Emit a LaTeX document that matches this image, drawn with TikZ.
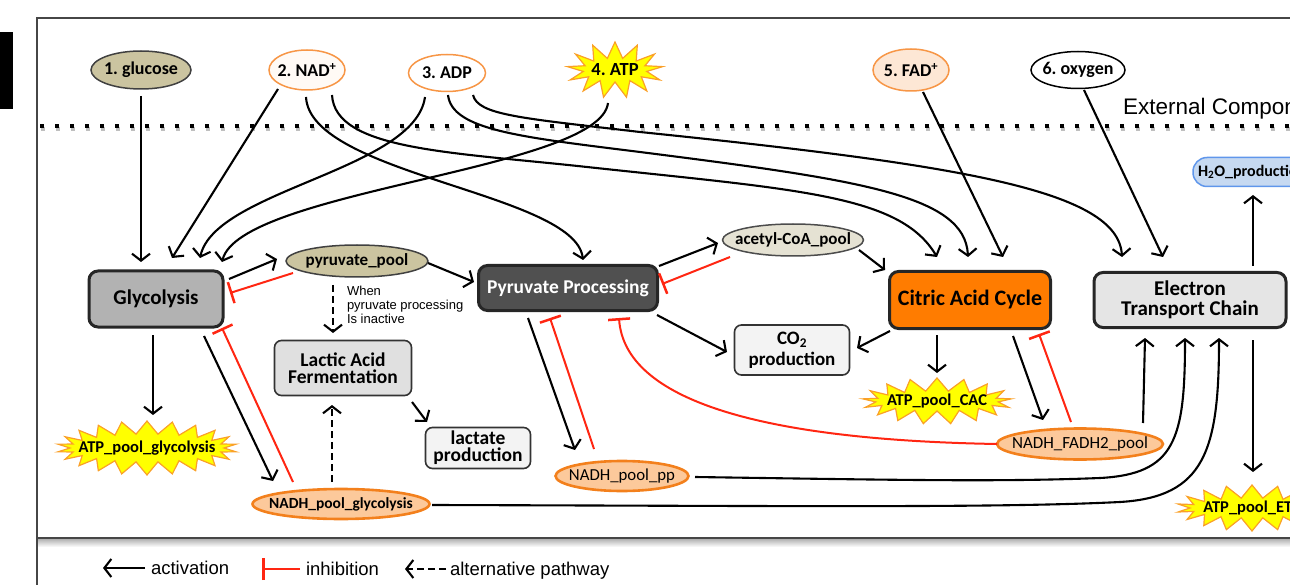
\documentclass[tikz,border=0pt]{standalone}
\usepackage{fontspec}
\setmainfont{Carlito}
\newfontfamily\arialfont{Liberation Sans}
\usetikzlibrary{arrows.meta,shapes.geometric,shapes.symbols,calc}

\definecolor{khaki}{RGB}{203,196,160}
\definecolor{khakilight}{RGB}{229,226,211}
\definecolor{orangeline}{RGB}{247,150,70}
\definecolor{peach}{RGB}{252,201,155}
\definecolor{peachlight}{RGB}{253,231,213}
\definecolor{poolline}{RGB}{243,128,28}
\definecolor{burstyellow}{RGB}{255,255,0}
\definecolor{burstline}{RGB}{250,160,40}
\definecolor{glygray}{RGB}{178,178,178}
\definecolor{ppgray}{RGB}{80,80,80}
\definecolor{cacorange}{RGB}{255,124,0}
\definecolor{etcgray}{RGB}{229,229,229}
\definecolor{lacgray}{RGB}{224,224,224}
\definecolor{prodgray}{RGB}{243,243,243}
\definecolor{waterblue}{RGB}{198,217,241}
\definecolor{waterline}{RGB}{95,150,235}
\definecolor{inhred}{RGB}{255,38,18}
\definecolor{framegray}{RGB}{70,70,70}

\newcommand\setfs[2]{\fontsize{#1}{#2}\selectfont}
% label of zero width, so that an ellipse or burst takes its size from its minimum width and height only
\newcommand\zw[1]{\makebox[0pt][c]{#1}}

\begin{document}
\begin{tikzpicture}[x=1pt, y=-1pt,
  every node/.style={inner sep=0pt, outer sep=0pt},
  pool/.style={ellipse, line width=1.5pt},
  input/.style={pool, font=\bfseries\setfs{18}{20}},
  nadhpool/.style={pool, fill=peach, draw=poolline, line width=2.6pt},
  procbig/.style={rectangle, rounded corners=9pt, line width=3pt, draw=black!85},
  procsmall/.style={rectangle, rounded corners=7pt, line width=1.6pt, draw=black!80, align=center},
  burst/.style={starburst, starburst point height=13pt, random starburst=0,
    fill=burstyellow, draw=burstline, line width=1.2pt, font=\bfseries\setfs{16.5}{18}},
  act/.style={draw=black, line width=2.1pt, -{Straight Barb[length=7pt,width=18pt]}},
  inh/.style={draw=inhred, line width=2pt, -{Bar[width=22pt,line width=2.5pt]}},
  alt/.style={act, dash pattern=on 7pt off 4pt},
  legendtext/.style={font=\arialfont\setfs{18.5}{20}, anchor=base west}]

\useasboundingbox (0,0) rectangle (1290,585);
\clip (0,0) rectangle (1290,585);

% frame, legend strip and side mark
\fill[black] (0,32) rectangle (13,109);
\shade[top color=black!30, bottom color=white] (38,539) rectangle (1320,547);
\draw[framegray, line width=1.8pt] (1320,18) -- (37,18) -- (37,600);
\draw[framegray, line width=2pt] (37,538) -- (1320,538);

% separator between external components and the cell
\draw[black!25, line width=4pt, dash pattern=on 4pt off 11pt] (41,129) -- (1300,129);
\draw[black, line width=4pt, dash pattern=on 4pt off 11pt] (40,126) -- (1300,126);
\node[font=\arialfont\setfs{22.5}{24}, anchor=base west] (extlabel) at (1123,115) {External Components};

% external inputs
\node[input, fill=khaki, draw=black!75, minimum width=100pt, minimum height=38pt] (glucose) at (141,70) {\zw{1.~glucose}};
\node[input, fill=orange!4, draw=orangeline, minimum width=76pt, minimum height=40pt] (nad) at (307,70) {\zw{2.~NAD\textsuperscript{+}}};
\node[input, fill=white, draw=orangeline, minimum width=77pt, minimum height=37pt] (adp) at (447,73) {\zw{3.~ADP}};
\node[burst, starburst points=13, starburst point height=16pt, minimum width=96pt, minimum height=56pt, font=\bfseries\setfs{18.5}{20}] (atp) at (615,70) {\zw{4.~ATP}};
\node[input, fill=peachlight, draw=orangeline, minimum width=76pt, minimum height=42pt] (fad) at (911,70) {\zw{5.~FAD\textsuperscript{+}}};
\node[input, fill=white, draw=black, minimum width=94pt, minimum height=37pt] (oxy) at (1078,70) {\zw{6.~oxygen}};

% processes
\node[procbig, fill=glygray, minimum width=134pt, minimum height=56pt, font=\bfseries\setfs{21}{22}] (gly) at (156,299) {Glycolysis};
\node[procbig, fill=ppgray, text=white, minimum width=179pt, minimum height=45pt, font=\bfseries\setfs{19.5}{22}] (pp) at (568,288) {Pyruvate Processing};
\node[procbig, fill=cacorange, minimum width=161pt, minimum height=57pt, font=\bfseries\setfs{22}{24}] (cac) at (970,300) {Citric Acid Cycle};
\node[procbig, fill=etcgray, align=center, minimum width=192pt, minimum height=55pt, font=\bfseries\setfs{21}{20}] (etc) at (1190,300) {Electron\\Transport Chain};
\node[procsmall, fill=lacgray, minimum width=137pt, minimum height=55pt, font=\bfseries\setfs{19.5}{17}] (lac) at (343,368) {Lactic Acid\\Fermentation};
\node[procsmall, fill=prodgray, minimum width=115pt, minimum height=50pt, font=\bfseries\setfs{19}{21}] (co2) at (792,350) {CO\textsubscript{2}\\production};
\node[procsmall, fill=prodgray, minimum width=105pt, minimum height=41pt, font=\bfseries\setfs{19.5}{17}] (lactate) at (478,448) {lactate\\production};

% pools
\node[pool, fill=khaki, draw=black!75, minimum width=142pt, minimum height=32pt, font=\bfseries\setfs{17}{20}] (pyr) at (357,261) {\zw{pyruvate\_pool}};
\node[pool, fill=khakilight, draw=black!70, minimum width=141pt, minimum height=32pt, font=\bfseries\setfs{17}{20}] (acetyl) at (793,240) {\zw{acetyl-CoA\_pool}};
\node[nadhpool, minimum width=133pt, minimum height=30pt, font=\setfs{16.8}{20}] (nadhpp) at (622,476) {\zw{NADH\_pool\_pp}};
\node[nadhpool, minimum width=177pt, minimum height=30pt, font=\bfseries\setfs{15.5}{20}] (nadhgly) at (341,504) {\zw{NADH\_pool\_glycolysis}};
\node[nadhpool, minimum width=166pt, minimum height=31pt, font=\setfs{17}{20}] (nadhfadh) at (1080,444) {\zw{NADH\_FADH2\_pool}};
\node[burst, starburst points=22, minimum width=180pt, minimum height=54pt] (atpgly) at (147,448) {\zw{ATP\_pool\_glycolysis}};
\node[burst, starburst points=17, minimum width=149pt, minimum height=45pt] (atpcac) at (937,401) {\zw{ATP\_pool\_CAC}};
\node[burst, starburst points=18, minimum width=150pt, minimum height=45pt] (atpetc) at (1252,508) {\zw{ATP\_pool\_ETC}};
\node[rectangle, rounded corners=14pt, fill=waterblue, draw=waterline, line width=1.5pt, minimum height=29pt, inner xsep=5pt, anchor=west, font=\bfseries\setfs{16}{18}] (h2o) at (1193,172) {H\textsubscript{2}O\_production};

\node[font=\arialfont\setfs{13}{14}, align=left, anchor=north west] (cond) at (347,286.5) {When\\pyruvate processing\\Is inactive};

% inputs into glycolysis
\draw[act] ($(glucose)+(0,26)$) -- ($(gly)+(-15,-37)$);
\draw[act] ($(nad)+(-29,19)$) -- ($(gly)+(16,-41)$);
\draw[act] ($(adp)+(-22,24)$) .. controls +(-10,73) and +(15,-68) .. ($(gly)+(44,-41)$);
\draw[act] ($(atp)+(-7,33)$) .. controls +(-8,67) and +(18,-72) .. ($(gly)+(66,-37)$);

% inputs into pyruvate processing, citric acid cycle and electron transport
\draw[act] ($(nad)+(-1,27)$) .. controls +(4,78) and +(-8,-67) .. ($(pp)+(15,-28)$);
\draw[act] ($(nad)+(25,25)$) .. controls +(3,55) and +(-137,-15) .. (587,167)
  .. controls +(213,23) and +(-37,-62) .. ($(cac)+(-33,-43)$);
\draw[act] ($(adp)+(1,22)$) .. controls +(4,35) and +(-120,-15) .. (640,152)
  .. controls +(220,28) and +(-3,-62) .. ($(cac)+(-2,-43)$);
\draw[act] ($(adp)+(26,22)$) .. controls +(5,20) and +(-120,-14) .. (640,132)
  .. controls +(320,33) and +(-4,-67) .. ($(etc)+(-68,-43)$);
\draw[act] ($(fad)+(12,22)$) -- ($(cac)+(33,-43)$);
\draw[act] ($(oxy)+(6,20)$) -- ($(etc)+(-27,-43)$);

% glycolysis and pyruvate
\draw[act] ($(gly)+(73,-20)$) -- ($(pyr)+(-80,-2)$);
\draw[inh] ($(pyr)+(-64,12)$) -- ($(gly)+(74,-6)$);
\draw[act] ($(pyr)+(71,2)$) -- ($(pp)+(-94,-6)$);
\draw[alt] ($(pyr)+(-24,24)$) -- ($(lac)+(-10,-35)$);
\draw[act] ($(gly)+(-3,36)$) -- ($(atpgly)+(6,-33)$);
\draw[act] ($(gly)+(48,37)$) -- ($(nadhgly)+(-68,-23)$);
\draw[inh] ($(nadhgly)+(-48,-22)$) -- ($(gly)+(66,29)$);
\draw[alt] ($(nadhgly)+(-9,-22)$) -- ($(lac)+(-11,37)$);
\draw[act] ($(lac)+(69,34)$) -- ($(lactate)+(-51,-26)$);

% pyruvate processing
\draw[act] ($(pp)+(91,-22)$) -- ($(acetyl)+(-75,3)$);
\draw[inh] ($(acetyl)+(-63,17)$) -- ($(pp)+(94,-4)$);
\draw[act] ($(acetyl)+(66,10)$) -- ($(cac)+(-85,-30)$);
\draw[act] ($(pp)+(89,27)$) -- ($(co2)+(-65,2)$);
\draw[act] ($(pp)+(-40,30)$) -- ($(nadhpp)+(-47,-26)$);
\draw[inh] ($(nadhpp)+(-28,-27)$) -- ($(pp)+(-18,30)$);
\draw[inh] ($(nadhfadh)+(-83,0)$) .. controls +(-237,-4) and +(6,82) .. ($(pp)+(51,30)$);

% citric acid cycle
\draw[act] ($(cac)+(-80,31)$) -- ($(co2)+(65,-2)$);
\draw[act] ($(cac)+(-33,35)$) -- ($(atpcac)+(0,-28)$);
\draw[act] ($(cac)+(43,36)$) -- ($(nadhfadh)+(-37,-24)$);
\draw[inh] ($(nadhfadh)+(-9,-22)$) -- ($(cac)+(69,34)$);

% electron transport chain
\draw[act] ($(nadhfadh)+(63,-21)$) -- ($(etc)+(-45,38)$);
\draw[act] ($(nadhpp)+(73,1)$) .. controls +(205,3) and +(-100,4) .. (1100,478)
  .. controls +(75,-4) and +(0,102) .. ($(etc)+(-5,38)$);
\draw[act] ($(nadhgly)+(91,1)$) .. controls +(368,1) and +(-120,6) .. (1120,502)
  .. controls +(85,-5) and +(0,112) .. ($(etc)+(29,38)$);
\draw[act] ($(etc)+(63,-34)$) -- ($(h2o.west)+(60,23)$);
\draw[act] ($(etc)+(63,40)$) -- ($(atpetc)+(1,-36)$);

% legend
\coordinate (actA) at (145,568);
\coordinate (actB) at (103,568);
\draw[act] (actA) -- (actB);
\node[legendtext] (actlabel) at (151,574) {activation};
\coordinate (inhA) at (300,569);
\coordinate (inhB) at (262,569);
\draw[inh] (inhA) -- (inhB);
\node[legendtext] (inhlabel) at (306,575) {inhibition};
\coordinate (altA) at (446,569);
\coordinate (altB) at (405,569);
\draw[alt] (altA) -- (altB);
\node[legendtext] (altlabel) at (450,575) {alternative pathway};
\end{tikzpicture}
\end{document}
